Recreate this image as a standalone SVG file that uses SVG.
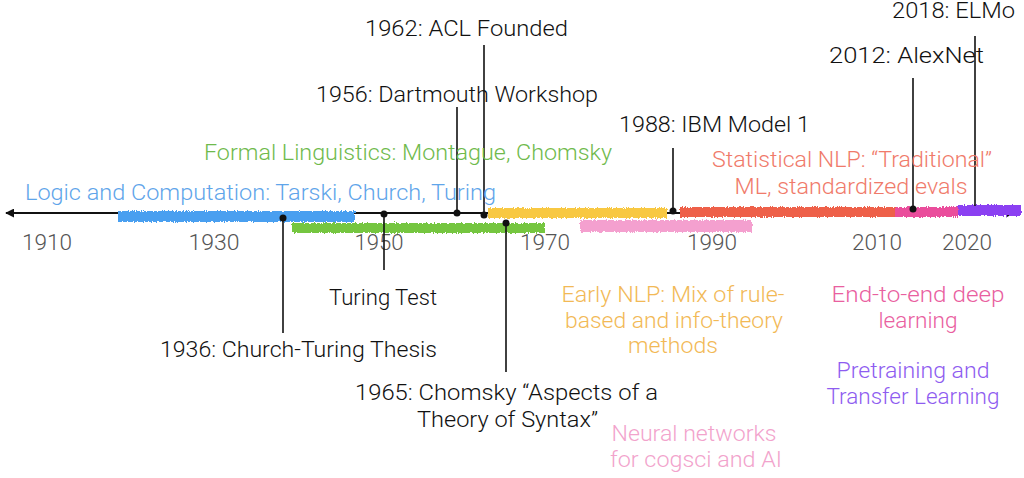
<svg xmlns="http://www.w3.org/2000/svg" width="1024" height="478" viewBox="0 0 1024 478">
  <style>
    text { font-family: Roboto, "Liberation Sans", Arial, sans-serif; font-weight: 300; font-size: 22px; }
    .blk { fill: #111111; }
    .ax { fill: #555555; text-anchor: middle; }
    .mid { text-anchor: middle; }
    .tick { stroke: #111; stroke-width: 1.6; fill: none; }
    .dot { fill: #111; }
    .bar { filter: url(#crayon); }
  </style>
  <defs>
    <filter id="crayon" x="-5%" y="-60%" width="110%" height="220%">
      <feTurbulence type="fractalNoise" baseFrequency="0.9 0.35" numOctaves="2" seed="3" result="n"/>
      <feDisplacementMap in="SourceGraphic" in2="n" scale="4" xChannelSelector="R" yChannelSelector="G"/>
    </filter>
    <marker id="ah" viewBox="0 0 10 10" refX="9" refY="5" markerWidth="9" markerHeight="9" markerUnits="userSpaceOnUse" orient="auto-start-reverse">
      <path d="M0,0 L10,5 L0,10 z" fill="#111"/>
    </marker>
  </defs>

  <!-- axis -->
  <g id="axis">
    <line x1="6" y1="213" x2="1014" y2="213" stroke="#111" stroke-width="2" marker-start="url(#ah)" marker-end="url(#ah)"/>
  </g>

  <!-- era bars -->
  <g id="bars">
    <rect class="bar" x="118" y="211" width="237" height="11" fill="#4a9ff0"/>
    <rect class="bar" x="292" y="223" width="253" height="10" fill="#74c641"/>
    <rect class="bar" x="488" y="208" width="179" height="10" fill="#f8c842"/>
    <rect class="bar" x="580" y="220" width="172" height="12" fill="#f4a0cf"/>
    <rect class="bar" x="680" y="207" width="215" height="10" fill="#ee6049"/>
    <rect class="bar" x="895" y="207" width="63" height="10" fill="#ea4e9c"/>
    <rect class="bar" x="958" y="205" width="63" height="11" fill="#8b40f2"/>
  </g>

  <!-- axis labels -->
  <g id="years">
    <text class="ax" x="47" y="250" textLength="50" lengthAdjust="spacingAndGlyphs">1910</text>
    <text class="ax" x="214" y="250" textLength="51" lengthAdjust="spacingAndGlyphs">1930</text>
    <text class="ax" x="379" y="250" textLength="49" lengthAdjust="spacingAndGlyphs">1950</text>
    <text class="ax" x="545" y="250" textLength="50" lengthAdjust="spacingAndGlyphs">1970</text>
    <text class="ax" x="712" y="250" textLength="50" lengthAdjust="spacingAndGlyphs">1990</text>
    <text class="ax" x="877" y="250" textLength="50" lengthAdjust="spacingAndGlyphs">2010</text>
    <text class="ax" x="967" y="250" textLength="50" lengthAdjust="spacingAndGlyphs">2020</text>
  </g>

  <!-- connectors (event markers) -->
  <g id="connectors">
    <line class="tick" x1="283" y1="218" x2="283" y2="333"/><circle class="dot" cx="283" cy="218" r="3.5"/>
    <line class="tick" x1="384" y1="214" x2="384" y2="270"/><circle class="dot" cx="384" cy="214" r="3.5"/>
    <line class="tick" x1="457" y1="107" x2="457" y2="213"/><circle class="dot" cx="457" cy="213" r="3.5"/>
    <line class="tick" x1="484" y1="45" x2="484" y2="215"/><circle class="dot" cx="484" cy="215" r="3.5"/>
    <line class="tick" x1="506" y1="223" x2="506" y2="372"/><circle class="dot" cx="506" cy="223" r="3.5"/>
    <line class="tick" x1="673" y1="148" x2="673" y2="211"/><circle class="dot" cx="673" cy="211" r="3.5"/>
    <line class="tick" x1="913" y1="78" x2="913" y2="209"/><circle class="dot" cx="913" cy="209" r="3.5"/>
    <line class="tick" x1="975" y1="36" x2="975" y2="206" stroke="#333"/>
  </g>

  <!-- event labels -->
  <g id="ev-elmo"><text class="blk" x="892" y="18" textLength="123" lengthAdjust="spacingAndGlyphs">2018: ELMo</text></g>
  <g id="ev-alexnet"><text class="blk" x="829" y="63" textLength="155" lengthAdjust="spacingAndGlyphs">2012: AlexNet</text></g>
  <g id="ev-acl"><text class="blk" x="365" y="36" textLength="203" lengthAdjust="spacingAndGlyphs">1962: ACL Founded</text></g>
  <g id="ev-dartmouth"><text class="blk" x="316" y="102" textLength="282" lengthAdjust="spacingAndGlyphs">1956: Dartmouth Workshop</text></g>
  <g id="ev-ibm"><text class="blk" x="619" y="132" textLength="191" lengthAdjust="spacingAndGlyphs">1988: IBM Model 1</text></g>
  <g id="ev-turingtest"><text class="blk" x="329" y="305" textLength="108" lengthAdjust="spacingAndGlyphs">Turing Test</text></g>
  <g id="ev-churchturing"><text class="blk" x="160" y="357" textLength="277" lengthAdjust="spacingAndGlyphs">1936: Church-Turing Thesis</text></g>
  <g id="ev-chomsky">
    <text class="blk" x="355" y="400" textLength="303" lengthAdjust="spacingAndGlyphs">1965: Chomsky “Aspects of a</text>
    <text class="blk" x="417" y="427" textLength="181" lengthAdjust="spacingAndGlyphs">Theory of Syntax”</text>
  </g>

  <!-- era labels -->
  <g id="era-logic"><text x="25" y="200" fill="#5fa5ea" textLength="471" lengthAdjust="spacingAndGlyphs">Logic and Computation: Tarski, Church, Turing</text></g>
  <g id="era-formal"><text x="204" y="160" fill="#6fba4c" textLength="408" lengthAdjust="spacingAndGlyphs">Formal Linguistics: Montague, Chomsky</text></g>
  <g id="era-statistical">
    <text class="mid" x="852" y="167" fill="#f07a6a" textLength="280" lengthAdjust="spacingAndGlyphs">Statistical NLP: “Traditional”</text>
    <text class="mid" x="851" y="194" fill="#f07a6a" textLength="233" lengthAdjust="spacingAndGlyphs">ML, standardized evals</text>
  </g>
  <g id="era-early">
    <text class="mid" x="673" y="302" fill="#f2b956" textLength="223" lengthAdjust="spacingAndGlyphs">Early NLP: Mix of rule-</text>
    <text class="mid" x="674" y="328" fill="#f2b956" textLength="218" lengthAdjust="spacingAndGlyphs">based and info-theory</text>
    <text class="mid" x="673" y="353" fill="#f2b956" textLength="90" lengthAdjust="spacingAndGlyphs">methods</text>
  </g>
  <g id="era-neural">
    <text class="mid" x="694" y="441" fill="#f2a3cc" textLength="165" lengthAdjust="spacingAndGlyphs">Neural networks</text>
    <text class="mid" x="696" y="467" fill="#f2a3cc" textLength="172" lengthAdjust="spacingAndGlyphs">for cogsci and AI</text>
  </g>
  <g id="era-deep">
    <text class="mid" x="918" y="302" fill="#e9609f" textLength="173" lengthAdjust="spacingAndGlyphs">End-to-end deep</text>
    <text class="mid" x="918" y="328" fill="#e9609f" textLength="79" lengthAdjust="spacingAndGlyphs">learning</text>
  </g>
  <g id="era-pretraining">
    <text class="mid" x="913" y="378" fill="#8e5cf0" textLength="153" lengthAdjust="spacingAndGlyphs">Pretraining and</text>
    <text class="mid" x="913" y="404" fill="#8e5cf0" textLength="173" lengthAdjust="spacingAndGlyphs">Transfer Learning</text>
  </g>
</svg>
